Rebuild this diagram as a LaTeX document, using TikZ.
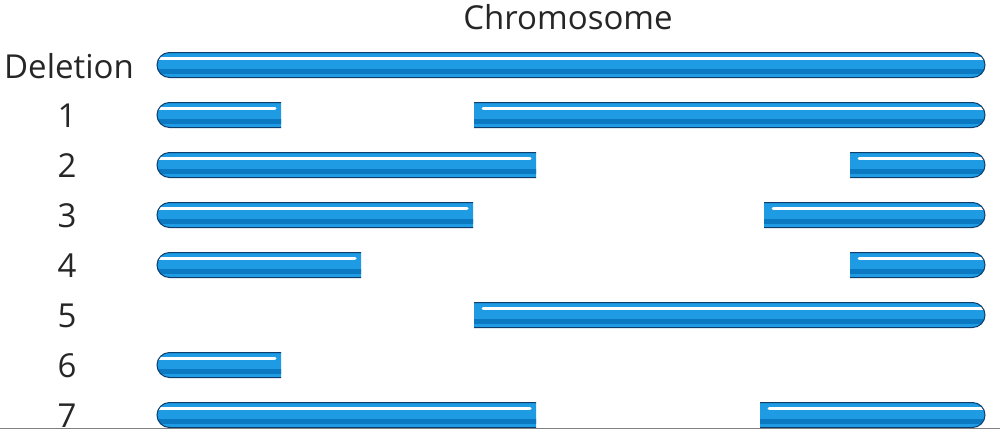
\documentclass[tikz,border=0pt]{standalone}
\usepackage{fontspec}
\setmainfont{Open Sans}
\definecolor{cmain}{HTML}{1E9BE2}
\definecolor{cdark}{HTML}{0B78C2}
\definecolor{cline}{HTML}{0D3E6E}
\newcommand\chromseg[3]{%
  \begin{scope}
    \clip (#1,#3-14) rectangle (#2,#3+14);
    \begin{scope}
      \clip[rounded corners=12.5pt] (157,#3-12.5) rectangle (985,#3+12.5);
      \fill[cmain] (150,#3-14) rectangle (992,#3+14);
      \fill[cdark] (150,#3+4) rectangle (992,#3+9);
    \end{scope}
    \draw[white,line width=3pt,line cap=round] (#1+9,#3-6.5) -- (#2-6,#3-6.5);
    \draw[cline,line width=1pt,rounded corners=12.5pt] (157,#3-12.5) rectangle (985,#3+12.5);
  \end{scope}}
\tikzset{lab/.style={font=\fontsize{33}{36}\selectfont,text=black!85}}
\begin{document}
\begin{tikzpicture}[x=1pt,y=-1pt]
\useasboundingbox (0,0) rectangle (1000,429);
\node[lab] (title) at (568,17) {Chromosome};
\node[lab] (del) at (69,66) {Deletion};
\foreach \n/\y in {1/116,2/166,3/216,4/266,5/316,6/366,7/416}
  \node[lab] (n\n) at (67,\y) {\n};
\chromseg{150}{992}{65}
\chromseg{150}{281}{115}\chromseg{474}{992}{115}
\chromseg{150}{536}{165}\chromseg{850}{992}{165}
\chromseg{150}{473}{215}\chromseg{764}{992}{215}
\chromseg{150}{361}{265}\chromseg{850}{992}{265}
\chromseg{474}{992}{315}
\chromseg{150}{281}{365}
\chromseg{150}{536}{415}\chromseg{760}{992}{415}
\draw[gray,line width=1pt] (0,428.5) -- (1000,428.5);
\end{tikzpicture}
\end{document}
